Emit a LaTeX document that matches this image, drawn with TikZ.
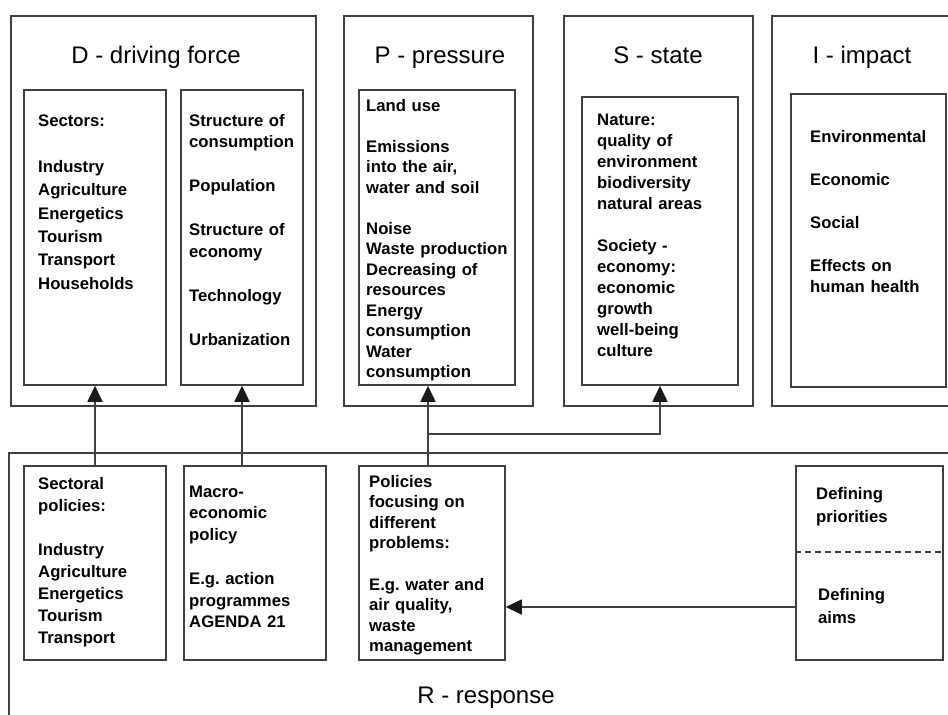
\documentclass[tikz,border=0pt]{standalone}
\usepackage{fontspec}
\setmainfont{Liberation Sans}
\usetikzlibrary{arrows.meta,calc}
\frenchspacing

\tikzset{
    frame/.style={draw=black!75, line width=1.5pt, inner sep=0pt},
    heading/.style={anchor=base, inner sep=0pt, font=\fontsize{24}{28}\selectfont},
    item/.style={anchor=base west, inner sep=0pt, align=left, text width=160pt},
    arr/.style={draw=black!75, line width=1.5pt, -{Triangle[width=15pt,length=16pt,color=black!90]}}
}
\newcommand{\itemfont}[1]{\bfseries\fontsize{16.7}{#1}\selectfont}

\begin{document}
\begin{tikzpicture}[x=1pt,y=-1pt]
            \useasboundingbox (0,0) rectangle (948,715);
            \clip (0,0) rectangle (948,715);

            % outer frames
            \node[frame, minimum width=305, minimum height=390] (d) at (163.5,211) {};
            \node[frame, minimum width=189, minimum height=390] (p) at (438.5,211) {};
            \node[frame, minimum width=189, minimum height=390] (s) at (658.5,211) {};
            \node[frame, minimum width=193, minimum height=390] (i) at (868.5,211) {};
            \node[frame, minimum width=951, minimum height=277] (r) at (484.5,591.5) {};

            \node[heading] (dtitle) at (156,63) {D - driving force};
            \node[heading] (ptitle) at (440,63) {P - pressure};
            \node[heading] (stitle) at (658,63) {S - state};
            \node[heading] (ititle) at (862,63) {I - impact};
            \node[heading] (rtitle) at (486,703) {R - response};

            % inner boxes
            \node[frame, minimum width=142, minimum height=295] (d1) at (95,237.5) {};
            \node[frame, minimum width=122, minimum height=295] (d2) at (242,237.5) {};
            \node[frame, minimum width=156, minimum height=295] (pin) at (437,237.5) {};
            \node[frame, minimum width=156, minimum height=288] (sin) at (660,241) {};
            \node[frame, minimum width=155, minimum height=293] (iin) at (868.5,240.5) {};

            \node[frame, minimum width=142, minimum height=194] (r1) at (95,563) {};
            \node[frame, minimum width=142, minimum height=194] (r2) at (255,563) {};
            \node[frame, minimum width=146, minimum height=194] (r3) at (432,563) {};
            \node[frame, minimum width=147, minimum height=194] (r4) at (869.5,563) {};
            \draw[draw=black!75, line width=1.5pt, dash pattern=on 6pt off 4pt]
                ($(r4.north west)!0.443!(r4.south west)$) -- ($(r4.north east)!0.443!(r4.south east)$);

            % texts
            \node[item, font=\itemfont{23.3}] (sectors) at (38,126)
                {Sectors:\\[23.3pt]Industry\\Agriculture\\Energetics\\Tourism\\Transport\\Households};
            \node[item, font=\itemfont{21.9}] (structure) at (189,126)
                {Structure of\\consumption\\[21.9pt]Population\\[21.9pt]Structure of\\economy\\[21.9pt]Technology\\[21.9pt]Urbanization};
            \node[item, font=\itemfont{20.5}] (landuse) at (366,111)
                {Land use\\[20.5pt]Emissions\\into the air,\\water and soil\\[20.5pt]Noise\\Waste production\\Decreasing of\\resources\\Energy\\consumption\\Water\\consumption};
            \node[item, font=\itemfont{21}] (nature) at (597,125)
                {Nature:\\quality of\\environment\\biodiversity\\natural areas\\[21pt]Society -\\economy:\\economic\\growth\\well-being\\culture};
            \node[item, font=\itemfont{21.5}] (effects) at (810,142)
                {Environmental\\[21.5pt]Economic\\[21.5pt]Social\\[21.5pt]Effects on\\human health};

            \node[item, font=\itemfont{22}] (sectoral) at (38,489)
                {Sectoral\\policies:\\[22pt]Industry\\Agriculture\\Energetics\\Tourism\\Transport};
            \node[item, font=\itemfont{21.8}] (macro) at (189,497)
                {Macro-\\economic\\policy\\[21.8pt]E.g. action\\programmes\\AGENDA 21};
            \node[item, font=\itemfont{20.6}] (policies) at (369,487)
                {Policies\\focusing on\\different\\problems:\\[20.6pt]E.g. water and\\air quality,\\waste\\management};
            \node[item, font=\itemfont{23}] (priorities) at (816,499) {Defining\\priorities};
            \node[item, font=\itemfont{23}] (aims) at (818,600) {Defining\\aims};

            % connectors
            \coordinate (fork) at (428,434);
            \coordinate (aimline) at (0,607);
            \draw[arr] (d1.south |- r1.north) -- (d1.south);
            \draw[arr] (d2.south |- r2.north) -- (d2.south);
            \draw[arr] (fork |- r3.north) -- (fork |- pin.south);
            \draw[arr] (fork) -| (sin.south);
            \draw[arr] (r4.west |- aimline) -- (r3.east |- aimline);

        \end{tikzpicture}
\end{document}
